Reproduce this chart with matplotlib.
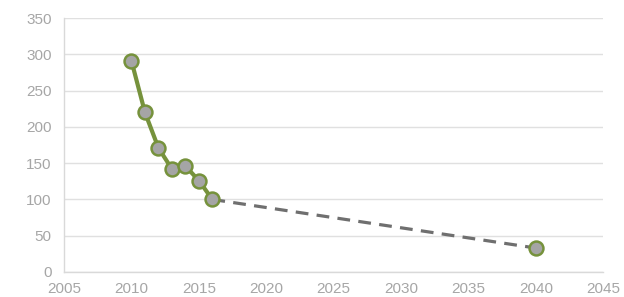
import matplotlib
matplotlib.use("Agg")
import matplotlib.pyplot as plt

years = [2010, 2011, 2012, 2013, 2014, 2015, 2016]
values = [291, 220, 171, 142, 146, 126, 100]
proj_years = [2016, 2040]
proj_values = [100, 33]

plt.rcParams['font.family'] = ['Liberation Sans', 'DejaVu Sans']

fig = plt.figure(figsize=(6.24, 2.97), dpi=100)
ax = fig.add_axes([0.1026, 0.0842, 0.8644, 0.855])

ax.plot(proj_years, proj_values, color='#6f6f6f', lw=2.3, dashes=(4, 2.6), zorder=2)
ax.plot(years, values, color='#76923c', lw=3, zorder=3)
ax.plot(years + [2040], values + [33], ls='none', marker='o', ms=10,
        mfc='#a5a5a5', mec='#76923c', mew=1.8, zorder=4)

ax.set_xlim(2005, 2045)
ax.set_ylim(0, 350)
ax.set_xticks(range(2005, 2046, 5))
ax.set_yticks(range(0, 351, 50))
ax.grid(axis='y', color='#e0e0e0', lw=1)
ax.set_axisbelow(True)
for s in ['top', 'right']:
    ax.spines[s].set_visible(False)
for s in ['left', 'bottom']:
    ax.spines[s].set_color('#d9d9d9')
    ax.spines[s].set_linewidth(1)
ax.tick_params(length=0, colors='#a6a6a6', labelsize=11)
ax.tick_params(axis='x', pad=7)
ax.tick_params(axis='y', pad=9)

fig.savefig('out.png', dpi=100)
